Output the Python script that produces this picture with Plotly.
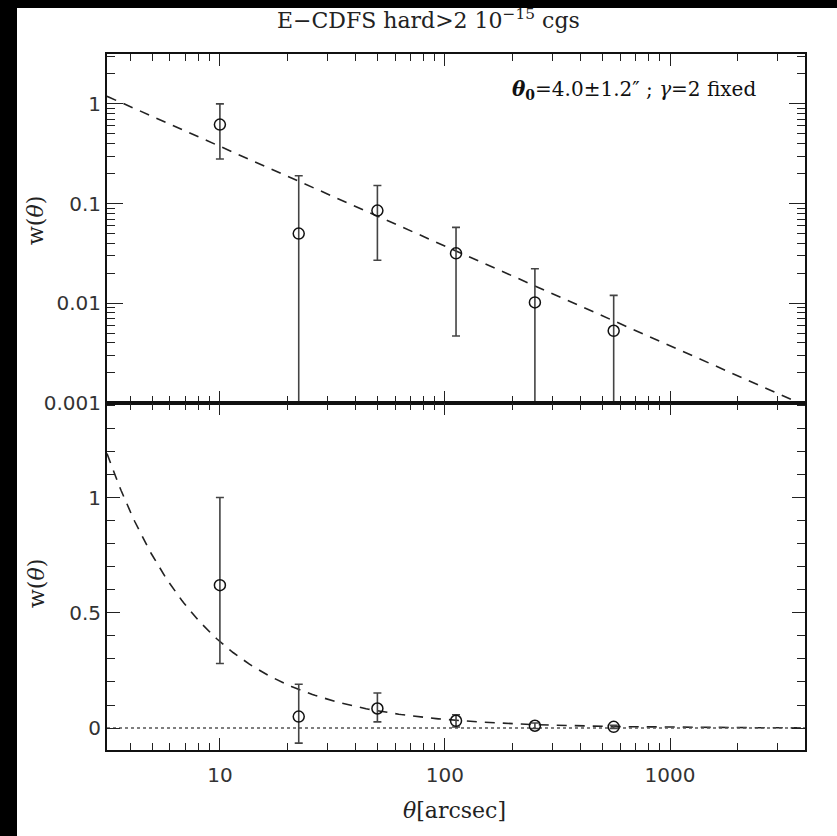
import plotly.graph_objects as go
from plotly.subplots import make_subplots
import numpy as np

# ---- data ----
theta = [10.0, 22.4, 50.1, 112.0, 251.0, 562.0]
w = [0.62, 0.05, 0.085, 0.0317, 0.0102, 0.0053]
err_plus = [0.38, 0.14, 0.067, 0.026, 0.012, 0.0067]
err_minus = [0.34, 0.115, 0.058, 0.027, 0.012, 0.0067]

# power-law fit w = (theta/theta0)^(1-gamma)
theta0_fit = 3.75
gamma_fit = 2.0
x_range = [3.15, 3980.0]

x_major = [10, 100, 1000]
x_major_text = ["10", "100", "1000"]
y_top_major = [0.001, 0.01, 0.1, 1]
y_top_major_text = ["0.001", "0.01", "0.1", "1"]
y_bot_major = [0, 0.5, 1]
y_bot_major_text = ["0", "0.5", "1"]

title_text = "E\u2212CDFS hard>2 10<sup>\u221215</sup> cgs"
fit_label = "<b><i>\u03b8</i><sub>0</sub></b>=4.0\u00b11.2\u2033 ; <i>\u03b3</i>=2 fixed"

# ---- derived ----
xf = np.logspace(np.log10(x_range[0]), np.log10(x_range[1]), 300)
wf = (xf / theta0_fit) ** (1 - gamma_fit)
x_minor = [m * 10 ** d for d in range(0, 4) for m in range(2, 10)
           if x_range[0] <= m * 10 ** d <= x_range[1] and m * 10 ** d not in x_major]
y_top_minor = [m * 10.0 ** d for d in range(-3, 1) for m in range(2, 10) if m * 10.0 ** d <= 3.16]

W, H = 837, 836
ml, mr, mt, mb = 107, 32, 54, 86
pw, ph = W - ml - mr, H - mt - mb

fig = make_subplots(rows=2, cols=1, shared_xaxes=True, vertical_spacing=0)

serif = "DejaVu Serif"
sans = "DejaVu Sans"

for row in (1, 2):
    fig.add_trace(go.Scatter(
        x=xf, y=wf, mode="lines",
        line=dict(color="#222", width=1.6, dash="10px,8px"),
        hoverinfo="skip", showlegend=False), row=row, col=1)

# zero line in bottom panel
fig.add_trace(go.Scatter(
    x=x_range, y=[0, 0], mode="lines",
    line=dict(color="#555", width=1.5, dash="dot"),
    showlegend=False, hoverinfo="skip"), row=2, col=1)

for row in (1, 2):
    fig.add_trace(go.Scatter(
        x=theta, y=w, mode="markers",
        marker=dict(symbol="circle-open", size=11, color="#111", line=dict(width=1.5, color="#111")),
        error_y=dict(type="data", array=err_plus, arrayminus=err_minus, symmetric=False,
                     color="#444", thickness=1.6, width=4),
        showlegend=False), row=row, col=1)

axis_common = dict(showline=True, linecolor="#111", linewidth=2, mirror="ticks",
                   ticks="inside", tickcolor="#222", tickwidth=1.3, showgrid=False,
                   zeroline=False, tickfont=dict(family=sans, size=20, color="#333"))

for row in (1, 2):
    fig.update_xaxes(type="log", range=[np.log10(x_range[0]), np.log10(x_range[1])],
                     tickmode="array", tickvals=x_major, ticktext=x_major_text, ticklen=12,
                     ticklabelstandoff=6,
                     minor=dict(ticks="inside", tickvals=x_minor, ticklen=7, tickcolor="#222",
                                tickwidth=1.3, showgrid=False),
                     showticklabels=(row == 2), **axis_common, row=row, col=1)

fig.update_yaxes(type="log", range=[-3, 0.5], tickmode="array",
                 tickvals=y_top_major, ticktext=y_top_major_text, ticklen=16,
                 minor=dict(ticks="inside", tickvals=y_top_minor, ticklen=8, tickcolor="#222",
                            tickwidth=1.3, showgrid=False),
                 **axis_common, row=1, col=1)
fig.update_yaxes(range=[-0.095, 1.41], tickmode="array",
                 tickvals=y_bot_major, ticktext=y_bot_major_text, ticklen=13,
                 minor=dict(ticks="inside", dtick=0.1, ticklen=8, tickcolor="#222",
                            tickwidth=1.3, showgrid=False),
                 **axis_common, row=2, col=1)

split = (H - mb - 403) / ph
fig.update_layout(yaxis=dict(domain=[split, 1]), yaxis2=dict(domain=[0, split]))

def px_x(px):
    return (px - ml) / pw

def px_y(py):
    return 1 - (py - mt) / ph

def ann(text, x, y, size, xanchor="center", angle=0, color="#222"):
    return dict(text=text, x=px_x(x), y=px_y(y), xref="paper", yref="paper",
                xanchor=xanchor, yanchor="middle", textangle=angle, showarrow=False,
                font=dict(family=serif, size=size, color=color))

annotations = [
    ann(title_text, 428, 19, 22),
    ann(fit_label, 758, 90, 20, xanchor="right", color="#111"),
    ann("w(<i>\u03b8</i>)", 36, 221, 22, angle=-90),
    ann("w(<i>\u03b8</i>)", 36, 584, 22, angle=-90),
    ann("<i>\u03b8</i>[arcsec]", 454, 810, 22),
]

shapes = [
    dict(type="rect", xref="paper", yref="paper", x0=px_x(-5), x1=px_x(17),
         y0=px_y(H + 5), y1=px_y(-5), fillcolor="black", line=dict(width=0), layer="above"),
    dict(type="rect", xref="paper", yref="paper", x0=px_x(-5), x1=px_x(W + 5),
         y0=px_y(8), y1=px_y(-5), fillcolor="black", line=dict(width=0), layer="above"),
]

fig.update_layout(width=W, height=H, margin=dict(l=ml, r=mr, t=mt, b=mb),
                  paper_bgcolor="white", plot_bgcolor="white",
                  annotations=annotations, shapes=shapes, showlegend=False)

post = ("document.documentElement.style.margin='0';document.body.style.margin='0';"
        "document.documentElement.style.overflow='hidden';document.body.style.overflow='hidden';")
fig.write_html("out.html", post_script=post)
